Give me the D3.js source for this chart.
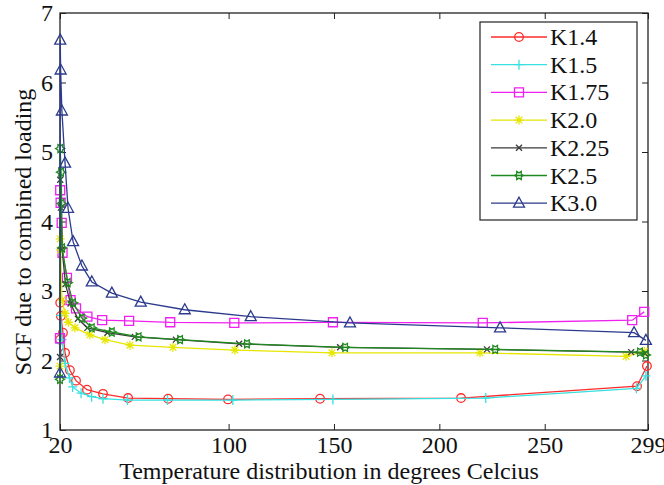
<!DOCTYPE html>
<html>
<head>
<meta charset="utf-8">
<script src="https://cdn.jsdelivr.net/npm/d3@7"></script>
<style>
    html, body { margin: 0; padding: 0; background: #fff; }
    svg { display: block; font-family: "Liberation Serif", "DejaVu Serif", serif; }
</style>
</head>
<body>
<div id="chart"></div>
<script>
(function () {
    // Daten
    var seriesNames = ['K1.4', 'K1.5', 'K1.75', 'K2.0', 'K2.25', 'K2.5', 'K3.0'];

    var xK14  = [20, 20.1, 20.4, 21.4, 22.4, 24.7, 27.6, 32.8, 40.4, 52.3, 71.3, 99.7, 143.4, 210.3, 293.8, 298.5];
    var yK14  = [2.30, 2.83, 2.64, 2.40, 2.11, 1.86, 1.71, 1.58, 1.52, 1.46, 1.45, 1.44, 1.45, 1.46, 1.63, 1.92];

    var xK15  = [20, 20.2, 21.0, 22.4, 24.5, 26.0, 30.0, 35.0, 40.4, 52.0, 71.0, 102.0, 149.5, 222.0, 293.5, 298.0];
    var yK15  = [2.25, 2.65, 2.30, 1.96, 1.75, 1.62, 1.53, 1.48, 1.45, 1.43, 1.43, 1.43, 1.44, 1.46, 1.60, 1.78];

    var xK175 = [20, 20.1, 20.3, 20.8, 21.2, 23.3, 25.0, 27.6, 33.0, 40.0, 52.8, 72.3, 102.7, 149.5, 220.6, 291.5, 297.2];
    var yK175 = [2.32, 4.45, 4.27, 3.98, 3.55, 3.19, 2.87, 2.75, 2.63, 2.58, 2.57, 2.55, 2.54, 2.55, 2.54, 2.58, 2.70];

    var xK20  = [20, 20.1, 20.3, 20.9, 22.4, 24.0, 27.1, 34.2, 41.4, 53.2, 73.6, 103.0, 149.0, 219.3, 288.6, 297.2];
    var yK20  = [1.92, 3.75, 3.59, 2.87, 2.68, 2.55, 2.47, 2.37, 2.30, 2.22, 2.19, 2.15, 2.11, 2.11, 2.06, 2.13];

    var xK225 = [20, 20.1, 20.4, 21.0, 22.6, 25.0, 28.5, 33.0, 42.5, 55.5, 75.0, 105.0, 152.9, 222.6, 291.0, 297.5];
    var yK225 = [2.05, 4.60, 4.20, 3.60, 3.10, 2.82, 2.60, 2.47, 2.40, 2.34, 2.30, 2.24, 2.19, 2.16, 2.12, 2.10];

    var xK25  = [20, 20.1, 20.5, 20.8, 21.0, 23.7, 26.2, 30.4, 35.1, 44.6, 57.3, 77.0, 108.7, 155.3, 226.5, 295.2, 298.0];
    var yK25  = [1.73, 5.05, 4.71, 4.26, 3.62, 3.12, 2.83, 2.61, 2.47, 2.41, 2.34, 2.30, 2.24, 2.19, 2.16, 2.12, 2.08];

    var xK30  = [20, 20.1, 20.3, 20.9, 22.4, 23.8, 26.2, 30.4, 35.1, 44.6, 58.3, 79.2, 110.5, 157.6, 228.8, 292.4, 298.0];
    var yK30  = [1.82, 6.61, 6.18, 5.59, 4.84, 4.19, 3.71, 3.36, 3.13, 2.97, 2.84, 2.73, 2.63, 2.54, 2.47, 2.40, 2.29];

    var xTicks = [20, 100, 150, 200, 250, 299];
    var yTicks = [1, 2, 3, 4, 5, 6, 7];

    var xLabel = 'Temperature distribution in degrees Celcius';
    var yLabel = 'SCF due to combined loading';

    // Darstellung
    var styles = [
        { color: '#ff2b2b', marker: 'circle' },
        { color: '#38e0e0', marker: 'plus' },
        { color: '#f020f0', marker: 'square' },
        { color: '#e6e600', marker: 'star' },
        { color: '#3a3a3a', marker: 'cross' },
        { color: '#1f8a1f', marker: 'hexagram' },
        { color: '#2b3a8c', marker: 'triangle' }
    ];

    var xs = [xK14, xK15, xK175, xK20, xK225, xK25, xK30];
    var ys = [yK14, yK15, yK175, yK20, yK225, yK25, yK30];

    var series = seriesNames.map(function (name, i) {
        return {
            name: name,
            color: styles[i].color,
            marker: styles[i].marker,
            points: xs[i].map(function (xv, j) { return { x: xv, y: ys[i][j] }; })
        };
    });

    var width = 664, height = 485;
    var plot = { left: 60, right: 648, top: 13, bottom: 430 };
    var tickLen = 6;
    var fontFamily = '"Liberation Serif", "DejaVu Serif", serif';

    var svg = d3.select('#chart')
        .append('svg')
        .attr('width', width)
        .attr('height', height)
        .attr('viewBox', '0 0 ' + width + ' ' + height);

    var x = d3.scaleLinear().domain([20, 299]).range([plot.left, plot.right]);
    var y = d3.scaleLinear().domain([1, 7]).range([plot.bottom, plot.top]);

    // Marker-Pfade
    function markerPath(type) {
        var p = d3.path();
        if (type === 'circle') {
            p.moveTo(4.3, 0); p.arc(0, 0, 4.3, 0, 2 * Math.PI);
        } else if (type === 'square') {
            p.rect(-4.5, -4.5, 9, 9);
        } else if (type === 'plus') {
            p.moveTo(-4.5, 0); p.lineTo(4.5, 0); p.moveTo(0, -5); p.lineTo(0, 5);
        } else if (type === 'cross') {
            p.moveTo(-3, -3); p.lineTo(3, 3); p.moveTo(-3, 3); p.lineTo(3, -3);
        } else if (type === 'star') {
            p.moveTo(-4.5, 0); p.lineTo(4.5, 0); p.moveTo(0, -4.5); p.lineTo(0, 4.5);
            p.moveTo(-3.3, -3.3); p.lineTo(3.3, 3.3); p.moveTo(-3.3, 3.3); p.lineTo(3.3, -3.3);
        } else if (type === 'triangle') {
            p.moveTo(0, -6); p.lineTo(5.5, 4); p.lineTo(-5.5, 4); p.closePath();
        } else if (type === 'hexagram') {
            var r1 = 4.6, r2 = 2.6;
            for (var k = 0; k < 12; k++) {
                var r = k % 2 === 0 ? r1 : r2;
                var a = Math.PI / 6 * k;
                var px = r * Math.cos(a), py = r * Math.sin(a);
                if (k === 0) p.moveTo(px, py); else p.lineTo(px, py);
            }
            p.closePath();
        }
        return p.toString();
    }

    // Achsenrahmen mit Ticks (nach innen, MATLAB-Stil)
    var axisColor = '#222';

    svg.append('g')
        .attr('transform', 'translate(0,' + plot.bottom + ')')
        .call(d3.axisBottom(x).tickValues(xTicks).tickFormat(d3.format('d'))
            .tickSizeInner(-tickLen).tickSizeOuter(0).tickPadding(6))
        .call(function (g) {
            g.select('.domain').remove();
            g.selectAll('line').attr('stroke', axisColor);
            g.selectAll('text').attr('font-size', 24).attr('fill', '#111')
                .attr('font-family', fontFamily);
        });

    svg.append('g')
        .attr('transform', 'translate(0,' + plot.top + ')')
        .call(d3.axisTop(x).tickValues(xTicks).tickSizeInner(-tickLen).tickSizeOuter(0).tickFormat(''))
        .call(function (g) {
            g.select('.domain').remove();
            g.selectAll('line').attr('stroke', axisColor);
        });

    svg.append('g')
        .attr('transform', 'translate(' + plot.left + ',0)')
        .call(d3.axisLeft(y).tickValues(yTicks).tickFormat(d3.format('d'))
            .tickSizeInner(-tickLen).tickSizeOuter(0).tickPadding(7))
        .call(function (g) {
            g.select('.domain').remove();
            g.selectAll('line').attr('stroke', axisColor);
            g.selectAll('text').attr('font-size', 24).attr('fill', '#111')
                .attr('font-family', fontFamily);
        });

    svg.append('g')
        .attr('transform', 'translate(' + plot.right + ',0)')
        .call(d3.axisRight(y).tickValues(yTicks).tickSizeInner(-tickLen).tickSizeOuter(0).tickFormat(''))
        .call(function (g) {
            g.select('.domain').remove();
            g.selectAll('line').attr('stroke', axisColor);
        });

    svg.append('rect')
        .attr('x', plot.left)
        .attr('y', plot.top)
        .attr('width', plot.right - plot.left)
        .attr('height', plot.bottom - plot.top)
        .attr('fill', 'none')
        .attr('stroke', axisColor)
        .attr('stroke-width', 1.3);

    // Kurven
    var line = d3.line()
        .x(function (d) { return x(d.x); })
        .y(function (d) { return y(d.y); });

    series.forEach(function (s) {
        var g = svg.append('g');
        g.append('path')
            .datum(s.points)
            .attr('d', line)
            .attr('fill', 'none')
            .attr('stroke', s.color)
            .attr('stroke-width', 1.3);

        g.selectAll('path.marker')
            .data(s.points)
            .enter()
            .append('path')
            .attr('class', 'marker')
            .attr('transform', function (d) { return 'translate(' + x(d.x) + ',' + y(d.y) + ')'; })
            .attr('d', markerPath(s.marker))
            .attr('fill', 'none')
            .attr('stroke', s.color)
            .attr('stroke-width', 1.3);
    });

    /* Achsentitel */
    svg.append('text')
        .attr('x', 329)
        .attr('y', 479)
        .attr('text-anchor', 'middle')
        .attr('font-size', 24)
        .attr('fill', '#111')
        .text(xLabel);

    svg.append('text')
        .attr('transform', 'translate(31,232) rotate(-90)')
        .attr('text-anchor', 'middle')
        .attr('font-size', 24)
        .attr('fill', '#111')
        .text(yLabel);

    /* Legende */
    var legend = { x: 480, y: 22, w: 157, h: 198, rowH: 27.7, first: 37 };

    svg.append('rect')
        .attr('x', legend.x)
        .attr('y', legend.y)
        .attr('width', legend.w)
        .attr('height', legend.h)
        .attr('fill', '#fff')
        .attr('stroke', axisColor)
        .attr('stroke-width', 1.2);

    series.forEach(function (s, i) {
        var ly = legend.first + i * legend.rowH;
        svg.append('line')
            .attr('x1', 491)
            .attr('x2', 547)
            .attr('y1', ly)
            .attr('y2', ly)
            .attr('stroke', s.color)
            .attr('stroke-width', 1.3);

        svg.append('path')
            .attr('transform', 'translate(519,' + ly + ')')
            .attr('d', markerPath(s.marker))
            .attr('fill', 'none')
            .attr('stroke', s.color)
            .attr('stroke-width', 1.3);

        svg.append('text')
            .attr('x', 550)
            .attr('y', ly + 8)
            .attr('font-size', 24)
            .attr('fill', '#111')
            .text(s.name);
    });
})();
</script>
</body>
</html>
